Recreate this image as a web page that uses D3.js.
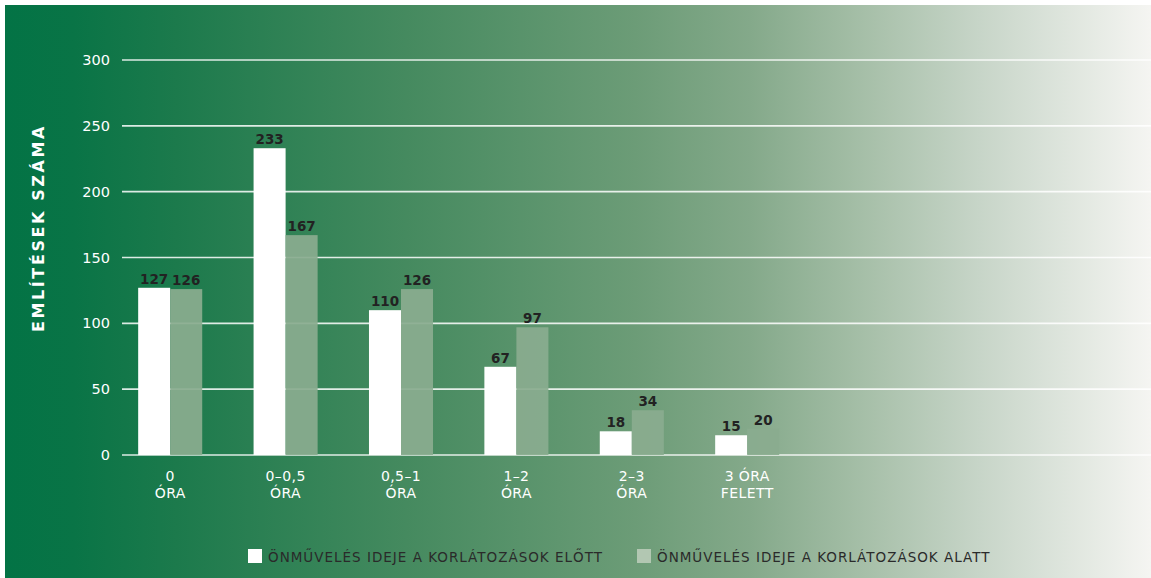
<!DOCTYPE html>
<html>
<head>
<meta charset="utf-8">
<script src="https://cdn.jsdelivr.net/npm/d3@7"></script>
<style>
  html, body { margin: 0; padding: 0; background: #ffffff; }
  svg { display: block; }
  text { font-family: "DejaVu Sans", "Open Sans", sans-serif; }
</style>
</head>
<body>
<svg id="chart" width="1151" height="578"></svg>
<script>
// Categories (two-line labels) and the two series of mention counts
const categories = ["0 óra", "0–0,5 óra", "0,5–1 óra", "1–2 óra", "2–3 óra", "3 óra felett"];
const categoryLines = [["0", "ÓRA"], ["0–0,5", "ÓRA"], ["0,5–1", "ÓRA"], ["1–2", "ÓRA"], ["2–3", "ÓRA"], ["3 ÓRA", "FELETT"]];
const seriesBefore = [127, 233, 110, 67, 18, 15];
const seriesDuring = [126, 167, 126, 97, 34, 20];
const seriesNames = ["ÖNMŰVELÉS IDEJE A KORLÁTOZÁSOK ELŐTT", "ÖNMŰVELÉS IDEJE A KORLÁTOZÁSOK ALATT"];
const yTicks = [0, 50, 100, 150, 200, 250, 300];
const yTitle = "EMLÍTÉSEK SZÁMA";

const W = 1151, H = 578;
const svg = d3.select("#chart");

// Background panel with a left-to-right green fade
const defs = svg.append("defs");
const grad = defs.append("linearGradient").attr("id", "bg").attr("x1", "0").attr("x2", "1").attr("y1", "0").attr("y2", "0");
[[0, "#037345"], [0.06, "#097446"], [0.15, "#1c7a4c"], [0.35, "#458a5f"], [0.55, "#6c9c77"],
 [0.65, "#84a98a"], [0.75, "#a6bfa8"], [0.85, "#c7d5c8"], [1, "#f5f5f2"]]
  .forEach(([o, c]) => grad.append("stop").attr("offset", o).attr("stop-color", c));
svg.append("rect").attr("x", 5).attr("y", 5).attr("width", W - 5).attr("height", H - 5).attr("fill", "url(#bg)");

// Scales
const plotLeft = 122, plotRight = W;
const y = d3.scaleLinear().domain([0, 300]).range([455, 60]);
const x = d3.scaleBand().domain(categories).range([112.5, 112.5 + 6 * 115.4]).paddingInner(0.445).paddingOuter(0.2225);
const xs = d3.scaleBand().domain([0, 1]).range([0, x.bandwidth()]);

// Gridlines
svg.append("g").selectAll("line").data(yTicks).join("line")
  .attr("x1", plotLeft).attr("x2", plotRight)
  .attr("y1", d => y(d)).attr("y2", d => y(d))
  .attr("stroke", "rgba(255,255,255,0.85)").attr("stroke-width", 1.6);

// Y axis labels via d3.axisLeft
const yAxis = svg.append("g").attr("transform", "translate(110,0)")
  .call(d3.axisLeft(y).tickValues(yTicks).tickSize(0).tickPadding(0));
yAxis.select(".domain").remove();
yAxis.selectAll("text").attr("fill", "#ffffff").attr("font-size", 14.5)
  .style("font-family", "'DejaVu Sans', sans-serif");

// Y axis title
svg.append("text")
  .attr("transform", `translate(44,228) rotate(-90)`)
  .attr("text-anchor", "middle")
  .attr("fill", "#ffffff").attr("font-size", 16).attr("font-weight", "bold")
  .attr("letter-spacing", 2.6)
  .text(yTitle);

// Bars
const groups = svg.append("g").selectAll("g").data(categories).join("g")
  .attr("transform", d => `translate(${x(d)},0)`);

const rows = categories.map((c, i) => [seriesBefore[i], seriesDuring[i]]);
groups.each(function (c, i) {
  const g = d3.select(this);
  rows[i].forEach((v, s) => {
    g.append("rect")
      .attr("x", xs(s)).attr("width", xs.bandwidth())
      .attr("y", y(v)).attr("height", y(0) - y(v))
      .attr("fill", s === 0 ? "#ffffff" : "#8aac8f")
      .attr("fill-opacity", s === 0 ? 1 : 0.93);
    g.append("text")
      .attr("x", xs(s) + xs.bandwidth() / 2).attr("y", y(v) - 4)
      .attr("text-anchor", "middle")
      .attr("fill", "#222222").attr("font-size", 13.5).attr("font-weight", "bold")
      .text(v);
  });
  // Category label, two lines
  const t = g.append("text").attr("text-anchor", "middle").attr("fill", "#ffffff")
    .attr("font-size", 14).attr("letter-spacing", 0.4);
  categoryLines[i].forEach((line, k) => {
    t.append("tspan").attr("x", x.bandwidth() / 2).attr("y", 481 + k * 17).text(line);
  });
});

// Legend
const legendItems = [
  { name: seriesNames[0], color: "#ffffff", x: 248 },
  { name: seriesNames[1], color: "#b2c7b2", x: 637 }
];
const lg = svg.append("g").selectAll("g").data(legendItems).join("g")
  .attr("transform", d => `translate(${d.x},549)`);
lg.append("rect").attr("width", 14).attr("height", 14).attr("fill", d => d.color);
lg.append("text").attr("x", 20).attr("y", 13)
  .attr("fill", "#2a2a2a").attr("font-size", 13.5).attr("letter-spacing", 1)
  .text(d => d.name);
</script>
</body>
</html>
